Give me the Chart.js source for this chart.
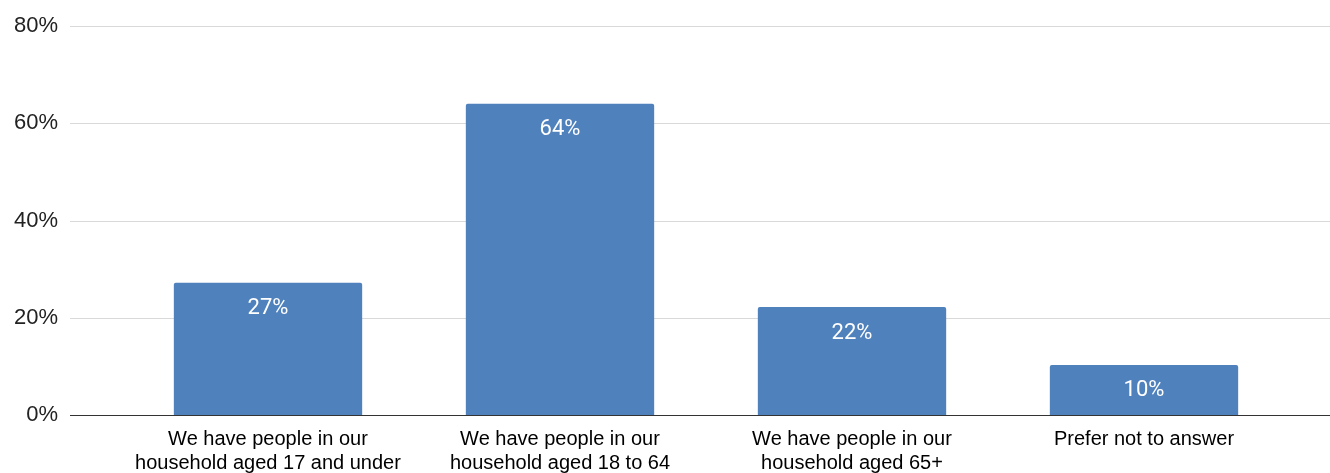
<!DOCTYPE html>
<html>
<head>
<meta charset="utf-8">
<script src="https://cdn.jsdelivr.net/npm/chart.js@4/dist/chart.umd.min.js"></script>
<style>
  html, body { margin: 0; padding: 0; background: #fff; }
  #wrap { width: 1330px; height: 473px; }
</style>
</head>
<body>
<div id="wrap"><canvas id="bar-chart"></canvas></div>
<script>
// dados
const categorias = [
  ['We have people in our', 'household aged 17 and under'],
  ['We have people in our', 'household aged 18 to 64'],
  ['We have people in our', 'household aged 65+'],
  'Prefer not to answer'
];
const valores = [27.2, 64, 22.2, 10.3];
const yTicks = [0, 20, 40, 60, 80];

const corBarra = '#4f81bd';

// linhas de grade que passam por toda a largura, como no original
const gradePlugin = {
  id: 'grade',
  beforeDatasetsDraw(chart) {
    const ctx = chart.ctx;
    const y = chart.scales.y;
    ctx.save();
    yTicks.forEach(function (v) {
      const py = Math.round(y.getPixelForValue(v)) + 0.5;
      ctx.beginPath();
      ctx.strokeStyle = v === 0 ? '#333333' : '#d9d9d9';
      ctx.lineWidth = 1;
      ctx.moveTo(70, py);
      ctx.lineTo(1330, py);
      ctx.stroke();
    });
    ctx.restore();
  }
};

// rótulos de valor dentro das barras
const rotuloPlugin = {
  id: 'rotulos',
  afterDatasetsDraw(chart) {
    const ctx = chart.ctx;
    const meta = chart.getDatasetMeta(0);
    ctx.save();
    ctx.fillStyle = '#ffffff';
    ctx.font = '22px Roboto';
    ctx.textAlign = 'center';
    ctx.textBaseline = 'middle';
    meta.data.forEach(function (bar, i) {
      ctx.fillText(Math.round(valores[i]) + '%', bar.x, bar.y + 26);
    });
    ctx.restore();
  }
};

new Chart(document.getElementById('bar-chart'), {
  type: 'bar',
  data: {
    labels: categorias,
    datasets: [{
      data: valores,
      backgroundColor: corBarra,
      borderRadius: { topLeft: 2, topRight: 2 },
      borderSkipped: 'bottom',
      categoryPercentage: 1,
      barPercentage: 0.645
    }]
  },
  options: {
    responsive: true,
    maintainAspectRatio: false,
    animation: false,
    layout: { padding: { top: 26, right: 40, left: 0, bottom: 0 } },
    plugins: {
      legend: { display: false },
      tooltip: { enabled: false }
    },
    scales: {
      x: {
        afterFit(scale) { scale.height = 58; },
        grid: { display: false, drawTicks: false },
        border: { display: false },
        ticks: {
          color: '#000',
          font: { family: 'Liberation Sans, Arial', size: 20, lineHeight: 1.2 },
          padding: 12,
          maxRotation: 0,
          autoSkip: false
        }
      },
      y: {
        min: 0,
        max: 80,
        afterBuildTicks(scale) {
          scale.ticks = yTicks.map(function (v) { return { value: v }; });
        },
        afterFit(scale) {
          scale.width = 122;
          // o padding dos ticks não deve empurrar a área do gráfico
          scale.paddingTop = 0;
          scale.paddingBottom = 0;
        },
        grid: { display: false, drawTicks: false },
        border: { display: false },
        ticks: {
          color: '#222',
          font: { family: 'Liberation Sans, Arial', size: 22 },
          padding: 64,
          callback: function (v) { return v + '%'; }
        }
      }
    }
  },
  plugins: [gradePlugin, rotuloPlugin]
});
</script>
</body>
</html>
